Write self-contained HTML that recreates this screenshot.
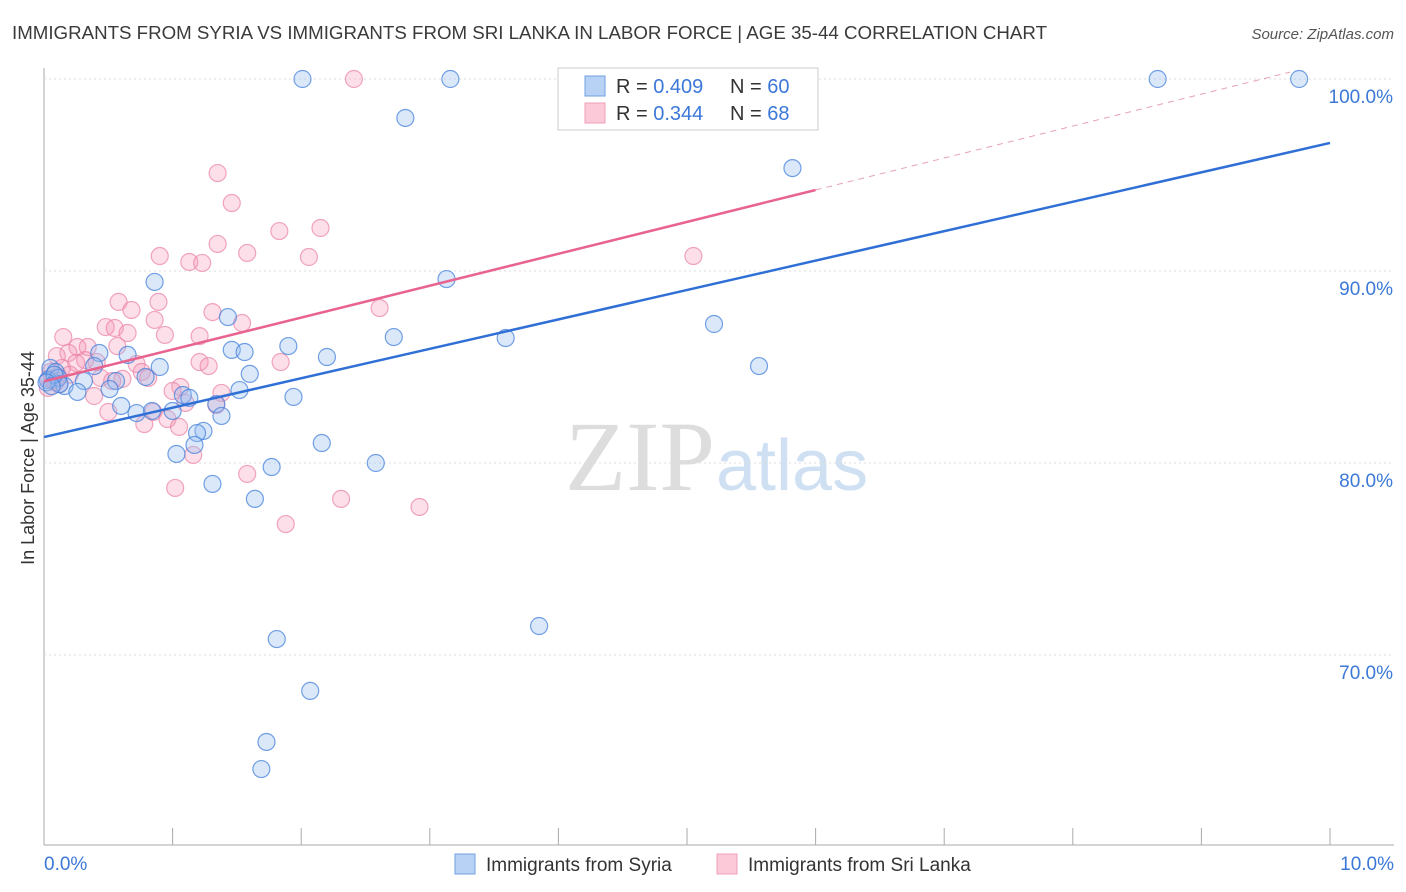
<!DOCTYPE html>
<html><head><meta charset="utf-8"><style>
body{margin:0;background:#fff;font-family:"Liberation Sans",sans-serif}
svg{display:block}
</style></head><body>
<svg id="chart" width="1406" height="892" xmlns="http://www.w3.org/2000/svg">
<text x="12" y="39" font-size="18" fill="#3a3a3a" textLength="1035" lengthAdjust="spacingAndGlyphs">IMMIGRANTS FROM SYRIA VS IMMIGRANTS FROM SRI LANKA IN LABOR FORCE | AGE 35-44 CORRELATION CHART</text>
<text x="1394" y="39" font-size="15" fill="#555" font-style="italic" text-anchor="end">Source: ZipAtlas.com</text>
<text x="715" y="490" font-size="100" fill="#ddd" font-family="Liberation Serif,serif" text-anchor="end">ZIP</text>
<text x="716" y="490" font-size="72" fill="#cfe0f3">atlas</text>
<text transform="translate(34,458) rotate(-90)" font-size="18" fill="#333" text-anchor="middle">In Labor Force | Age 35-44</text>
<g id="grid"></g><g id="pts"></g><g id="lines"></g>
<g>
<rect x="558" y="68" width="260" height="62" fill="#fff" stroke="#ccc"/>
<rect x="585" y="76" width="20" height="20" fill="#b8d2f5" stroke="#6fa0e0"/>
<rect x="585" y="103" width="20" height="20" fill="#fbc9d8" stroke="#f0a0b8"/>
<text x="616" y="93" font-size="20" fill="#333">R = <tspan fill="#3b78d8">0.409</tspan></text>
<text x="730" y="93" font-size="20" fill="#333">N = <tspan fill="#3b78d8">60</tspan></text>
<text x="616" y="120" font-size="20" fill="#333">R = <tspan fill="#3b78d8">0.344</tspan></text>
<text x="730" y="120" font-size="20" fill="#333">N = <tspan fill="#3b78d8">68</tspan></text>
</g>
<g>
<rect x="455" y="854" width="20" height="20" fill="#b8d2f5" stroke="#6fa0e0"/>
<text x="486" y="871" font-size="19" fill="#333">Immigrants from Syria</text>
<rect x="717" y="854" width="20" height="20" fill="#fbc9d8" stroke="#f0a0b8"/>
<text x="748" y="871" font-size="19" fill="#333">Immigrants from Sri Lanka</text>
</g>
<text x="44" y="870" font-size="19" fill="#3b78d8">0.0%</text>
<text x="1394" y="870" font-size="19" fill="#3b78d8" text-anchor="end">10.0%</text>
</svg>
<script>
const yTicks=[100,90,80,70];
const syriaX=[2.01,3.16,8.66,9.76,2.81,5.82,3.13,0.86,5.21,1.43,2.72,3.59,1.90,1.46,1.56,2.20,0.43,0.65,5.56,0.90,0.39,1.60,0.79,0.56,0.31,0.16,0.51,0.26,1.52,1.94,1.08,1.13,1.34,0.60,0.72,0.84,1.0,1.38,1.24,1.19,1.17,2.16,1.03,2.58,1.77,1.31,1.64,3.85,1.81,2.07,1.73,1.69,0.05,0.09,0.03,0.11,0.12,0.08,0.02,0.06];
const syriaY=[100,100,100,100,97.97,95.36,89.58,89.43,87.24,87.6,86.56,86.51,86.09,85.89,85.78,85.52,85.73,85.63,85.05,85.0,85.05,84.64,84.48,84.27,84.27,84.01,83.85,83.7,83.8,83.44,83.54,83.39,83.07,82.97,82.6,82.71,82.71,82.45,81.67,81.56,80.94,81.04,80.47,80.0,79.79,78.91,78.13,71.51,70.83,68.13,65.47,64.06,84.95,84.74,84.32,84.43,84.11,84.6,84.2,84.0];
const lankaX=[2.41,1.35,1.46,1.83,2.15,1.35,1.58,0.90,1.13,1.23,2.06,5.05,0.58,0.89,0.68,2.61,1.31,0.86,1.54,0.48,0.55,0.65,0.94,1.21,0.15,0.26,0.34,0.57,0.19,0.10,0.32,0.41,0.25,1.21,1.28,1.84,0.72,0.76,0.81,0.44,0.61,0.53,1.06,1.0,1.38,1.10,1.34,0.39,0.50,0.85,0.96,0.78,1.05,1.16,1.58,1.02,2.31,2.92,1.88,0.05,0.07,0.03,0.11,0.14,0.2,0.09,0.04,0.12];
const lankaY=[100,95.1,93.54,92.08,92.24,91.41,90.94,90.78,90.47,90.42,90.73,90.78,88.39,88.39,87.97,88.07,87.86,87.45,87.29,87.08,87.03,86.77,86.67,86.61,86.56,86.04,86.04,86.09,85.73,85.57,85.36,85.26,85.21,85.26,85.05,85.26,85.16,84.74,84.43,84.43,84.38,84.27,83.96,83.75,83.65,83.13,83.02,83.49,82.66,82.66,82.29,82.03,81.88,80.42,79.43,78.7,78.13,77.71,76.82,84.74,84.32,83.91,84.53,84.95,84.6,84.2,84.4,84.1];
const syriaTrend=[81.35,96.67];
const lankaTrend=[84.25,94.22,100.36];
const lankaTrendX=[0,6,9.69];
const NS="http://www.w3.org/2000/svg";
const sx=v=>44+v*128.6, sy=v=>79+(100-v)*19.2;
function mk(tag,at,parent){const e=document.createElementNS(NS,tag);for(const k in at)e.setAttribute(k,at[k]);document.getElementById(parent).appendChild(e);return e;}
const g='grid';
let ax=mk('line',{x1:44,y1:68,x2:44,y2:845,stroke:'#aaa'},g);


let bx=mk('line',{x1:44,y1:845,x2:1394,y2:845,stroke:'#aaa'},g);


for(let i=0;i<=10;i++){const t=mk('line',{x1:sx(i),y1:828,x2:sx(i),y2:845,stroke:'#aaa'},g);

}
yTicks.forEach(v=>{const l=mk('line',{x1:44,y1:sy(v),x2:1394,y2:sy(v),stroke:'#ddd','stroke-dasharray':'2,3'},g);


const t=mk('text',{x:1393,y:sy(v)+24,'font-size':19,fill:'#3b78d8','text-anchor':'end'},g);t.textContent=v.toFixed(1)+'%';

});
lankaX.forEach((x,i)=>{const c=mk('circle',{cx:sx(x),cy:sy(lankaY[i]),r:8.5,fill:'rgba(245,150,180,0.3)',stroke:'rgba(235,130,165,0.7)','stroke-width':1.2},'pts');

});
syriaX.forEach((x,i)=>{const c=mk('circle',{cx:sx(x),cy:sy(syriaY[i]),r:8.5,fill:'rgba(150,190,240,0.35)',stroke:'rgba(70,130,220,0.75)','stroke-width':1.2},'pts');

});
let l1=mk('line',{x1:sx(0),y1:sy(syriaTrend[0]),x2:sx(10),y2:sy(syriaTrend[1]),stroke:'#2f6fd6','stroke-width':2.5},'lines');


let l2=mk('line',{x1:sx(lankaTrendX[0]),y1:sy(lankaTrend[0]),x2:sx(lankaTrendX[1]),y2:sy(lankaTrend[1]),stroke:'#e8648f','stroke-width':2.5},'lines');


let l3=mk('line',{x1:sx(lankaTrendX[1]),y1:sy(lankaTrend[1]),x2:sx(lankaTrendX[2]),y2:sy(lankaTrend[2]),stroke:'#e8a0b8','stroke-width':1,'stroke-dasharray':'6,5'},'lines');


</script>
</body></html>
